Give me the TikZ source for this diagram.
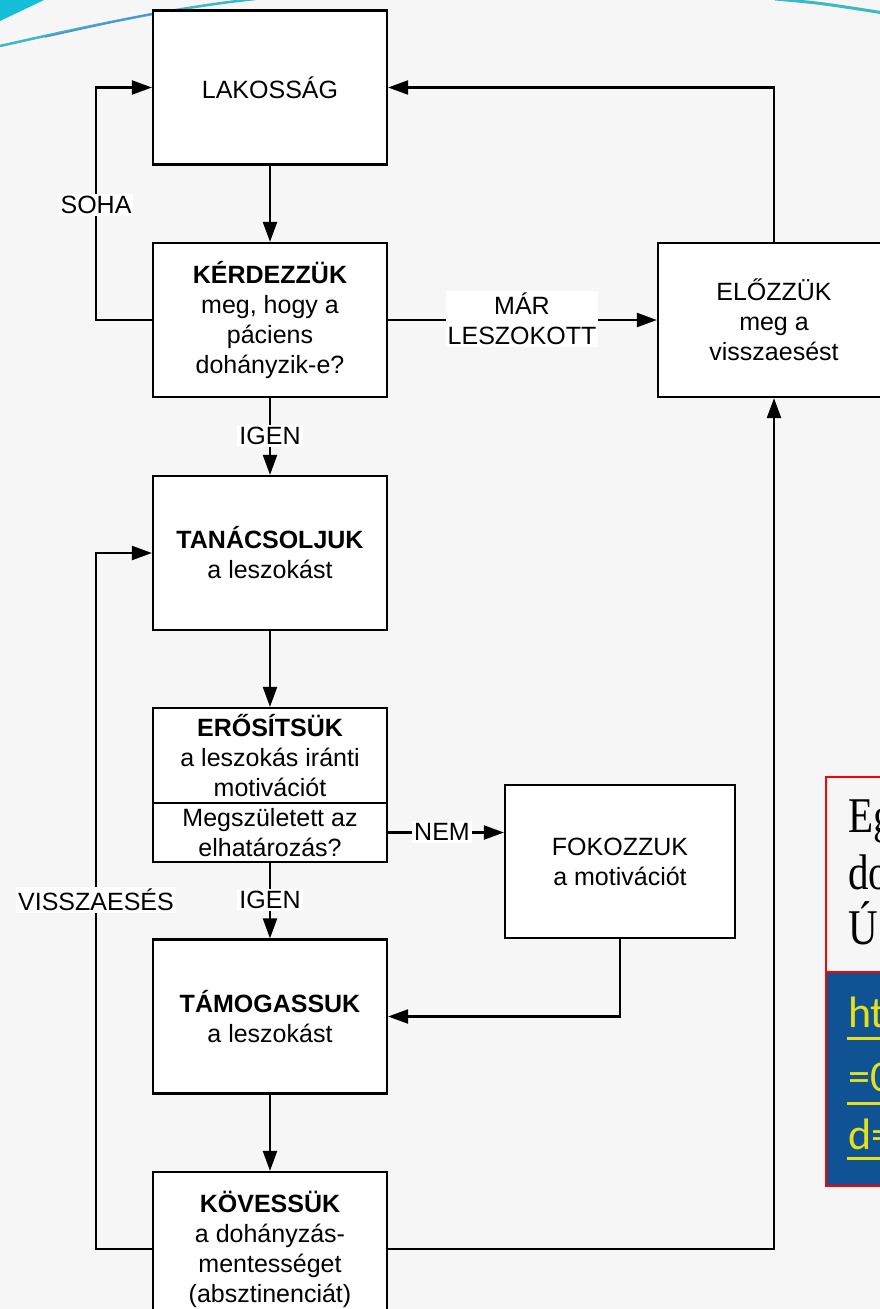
\documentclass[tikz,border=0pt]{standalone}
\usepackage{fontspec}
\setmainfont{Liberation Sans}
\newfontfamily\timesf{Liberation Serif}
\newfontfamily\calib{Carlito}
\usetikzlibrary{arrows.meta,calc}
\definecolor{bgc}{HTML}{F6F6F6}
\definecolor{swcyan}{HTML}{12BFD6}
\definecolor{swteal}{HTML}{3DB9C2}
\definecolor{swblue}{HTML}{5B8BD6}
\definecolor{linkblue}{HTML}{0F5394}
\definecolor{linkyellow}{HTML}{E6E01A}
\begin{document}
\begin{tikzpicture}[x=1pt,y=-1pt,
  txt/.style={font=\fontsize{25}{30}\selectfont},
  box/.style={txt, draw=black, line width=2.2pt, fill=white, minimum width=234pt,
    minimum height=154pt, align=center, inner sep=0pt},
  arr/.style={line width=2.2pt, -{Triangle[length=20pt,width=14pt]}},
  lbl/.style={txt, fill=white, inner sep=2pt, align=center},
  redtxt/.style={anchor=base west, inner sep=0pt, xscale=0.82, transform shape,
    font=\timesf\fontsize{50}{55}\selectfont},
  linktxt/.style={anchor=base west, inner sep=0pt, text=linkyellow,
    font=\calib\fontsize{44}{50}\selectfont}]
\useasboundingbox (0,0) rectangle (880,1309);
\clip (0,0) rectangle (880,1309);
\fill[bgc] (0,0) rectangle (880,1309);
% decorative swooshes
\fill[swcyan] (0,0) -- (44,0) -- (0,21) -- cycle;
\draw[swteal, line width=2.5pt] (0,46) .. controls (80,28) and (170,8) .. (255,-1);
\draw[swblue, line width=1.4pt] (45,37) .. controls (90,27) and (130,18) .. (165,11);
\draw[swteal, line width=3pt] (775,-1) .. controls (820,3) .. (884,13);
% boxes
\node[box] (lak) at (270,87.5) {LAKOSSÁG};
\node[box] (ker) at (270,320) {\textbf{KÉRDEZZÜK}\\meg, hogy a\\páciens\\dohányzik-e?};
\node[box, minimum width=232pt] (elo) at (774,320) {ELŐZZÜK\\meg a\\visszaesést};
\node[box] (tan) at (270,553) {\textbf{TANÁCSOLJUK}\\a leszokást};
\node[box, minimum height=95pt] (ero) at (270,755.5) {\textbf{ERŐSÍTSÜK}\\a leszokás iránti\\motivációt};
\node[box, minimum height=59pt] (dec) at (270,832.5) {Megszületett az\\elhatározás?};
\node[box, minimum width=230pt, minimum height=153pt] (fok) at (620,861.5) {FOKOZZUK\\a motivációt};
\node[box] (tam) at (270,1016.5) {\textbf{TÁMOGASSUK}\\a leszokást};
\node[box] (kov) at (270,1249) {\textbf{KÖVESSÜK}\\a dohányzás-\\mentességet\\(absztinenciát)};
\coordinate (lx) at (96,0);
% connectors
\draw[arr] (lak) -- (ker);
\draw[arr] (ker.west) -- (ker.west -| lx) |- (lak.west);
\node[lbl] (soha) at (96,205) {SOHA};
\draw[arr] (ker.east) -- (elo.west);
\node[lbl] (mar) at (522,319) {MÁR\\LESZOKOTT};
\draw[arr] (elo.north) |- (lak.east);
\draw[arr] (ker) -- (tan);
\node[lbl] (igen1) at (270,436) {IGEN};
\draw[arr] (tan) -- (ero);
\draw[arr] (dec.east) -- (dec.east -| fok.west);
\node[lbl] (nem) at (442,832) {NEM};
\draw[arr] (dec) -- (tam);
\node[lbl] (igen2) at (270,900) {IGEN};
\draw[arr] (fok.south) |- (tam.east);
\draw[arr] (tam) -- (kov);
\draw[arr] (kov.west) -- (kov.west -| lx) |- (tan.west);
\node[lbl] (vissza) at (96,900) {VISSZAESÉS};
\draw[arr] (kov.east) -| (elo.south);
% red-framed box at right
\fill[linkblue] (826,972) rectangle (895,1186);
\draw[red, line width=1.5pt] (826,777) rectangle (895,1186);
\draw[red, line width=1.5pt] (826,972) -- (895,972);
\node[redtxt] (t1) at (848,832) {Eg};
\node[redtxt] (t2) at (848,889) {do};
\node[redtxt] (t3) at (848,944) {Ú};
\node[linktxt] (u1) at (848,1027) {ht};
\node[linktxt] (u2) at (848,1091) {=0};
\node[linktxt] (u3) at (848,1149) {d=};
\draw[linkyellow, line width=3pt] (847,1038) -- (885,1038);
\draw[linkyellow, line width=3pt] (847,1103) -- (885,1103);
\draw[linkyellow, line width=3pt] (847,1158) -- (885,1158);
\end{tikzpicture}
\end{document}
